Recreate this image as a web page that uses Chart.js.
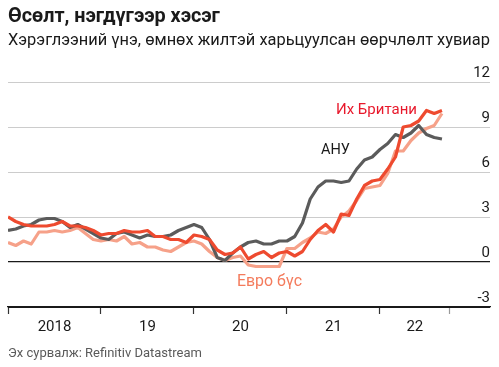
<!DOCTYPE html>
<html><head><meta charset="utf-8">
<script src="https://cdn.jsdelivr.net/npm/chart.js@4"></script>
<style>
html,body{margin:0;padding:0;background:#fff;}
#wrap{position:relative;width:499px;height:367px;overflow:hidden;font-family:Roboto,"Noto Sans",sans-serif;}
#c{position:absolute;left:0;top:0;}
.t{position:absolute;white-space:nowrap;line-height:1;margin:0;}
</style></head><body>
<div id="wrap">
<canvas id="c" width="499" height="367"></canvas>
<div class="t" id="title">Өсөлт, нэгдүгээр хэсэг</div>
<div class="t" id="subtitle">Хэрэглээний үнэ, өмнөх жилтэй харьцуулсан өөрчлөлт хувиар</div>
<div class="t" id="lblUK">Их Британи</div>
<div class="t" id="lblUS">АНУ</div>
<div class="t" id="lblEU">Евро бүс</div>
<div class="t" id="footer">Эх сурвалж: Refinitiv Datastream</div>
</div>
<script>
// ---- data (monthly, Jan 2018 = month 0 ... Sep 2022) ----
const ukValues = [
  3.0,2.7,2.5,2.4,2.4,2.4,2.5,2.7,2.4,2.4,2.3,2.1,
  1.8,1.9,1.9,2.1,2.0,2.0,2.1,1.7,1.7,1.5,1.5,1.3,
  1.8,1.7,1.5,0.8,0.5,0.6,1.0,0.2,0.5,0.7,0.3,0.6,
  0.7,0.4,0.7,1.5,2.1,2.5,2.0,3.2,3.1,4.2,5.1,5.4,
  5.5,6.2,7.0,9.0,9.1,9.4,10.1,9.9,10.1];
const usValues = [
  2.1,2.2,2.4,2.5,2.8,2.9,2.9,2.7,2.3,2.5,2.2,1.9,
  1.6,1.5,1.9,2.0,1.8,1.6,1.8,1.7,1.7,1.8,2.1,2.3,
  2.5,2.3,1.5,0.3,0.1,0.6,1.0,1.3,1.4,1.2,1.2,1.4,
  1.4,1.7,2.6,4.2,5.0,5.4,5.4,5.3,5.4,6.2,6.8,7.0,
  7.5,7.9,8.5,8.3,8.6,9.1,8.5,8.3,8.2];
const euroValues = [
  1.3,1.1,1.4,1.2,2.0,2.0,2.1,2.0,2.1,2.3,1.9,1.5,
  1.4,1.5,1.4,1.7,1.2,1.3,1.0,1.0,0.8,0.7,1.0,1.3,
  1.4,1.2,0.7,0.3,0.1,0.3,0.4,-0.2,-0.3,-0.3,-0.3,-0.3,
  0.9,0.9,1.3,1.6,2.0,1.9,2.2,3.0,3.4,4.1,4.9,5.0,
  5.1,5.9,7.4,7.4,8.1,8.6,8.9,9.1,9.9];
const yearLabels = ['2018','19','20','21','22'];
const yearLabelMonths = [6,18,30,42,52.5];
const yearTickMonths = [0,12,24,36,48,57];
const yTicks = [-3,0,3,6,9,12];
const seriesNames = ['Их Британи','АНУ','Евро бүс'];

const toPts = arr => arr.map((v,i)=>({x:i,y:v}));

const X_MIN = 0, X_MAX = 62.2;

function fixPad(s){ s.paddingTop=0; s.paddingBottom=0; s.paddingLeft=0; s.paddingRight=0; }

new Chart(document.getElementById('c'), {
  type:'line',
  data:{datasets:[
    {label:seriesNames[0], data:toPts(ukValues), borderColor:'#ee4a2f', borderWidth:3.2},
    {label:seriesNames[1], data:toPts(usValues), borderColor:'#5b5b5b', borderWidth:3.2},
    {label:seriesNames[2], data:toPts(euroValues), borderColor:'#f6a189', borderWidth:3.2}
  ]},
  options:{
    responsive:false, animation:false,
    parsing:true,
    elements:{point:{radius:0}, line:{tension:0, borderJoinStyle:'round', borderCapStyle:'butt'}},
    layout:{padding:{left:8, right:9, top:82, bottom:23}},
    plugins:{legend:{display:false}, tooltip:{enabled:false}},
    scales:{
      x:{type:'linear', position:'bottom', min:X_MIN, max:X_MAX, weight:0,
        afterBuildTicks:s=>{ s.ticks = yearTickMonths.map(v=>({value:v})); },
        afterFit:s=>{ s.height=7; fixPad(s); },
        ticks:{display:false},
        grid:{drawOnChartArea:false, drawTicks:true, tickLength:7, tickWidth:1.2,
          tickColor:c=> c.index===yearTickMonths.length-1 ? '#9a9a9a' : '#333'},
        border:{display:true, color:'#1a1a1a', width:1.2}
      },
      xl:{type:'linear', position:'bottom', min:X_MIN, max:X_MAX, weight:1,
        afterBuildTicks:s=>{ s.ticks = yearLabelMonths.map(v=>({value:v})); },
        afterFit:s=>{ s.height=30; fixPad(s); },
        ticks:{autoSkip:false, maxRotation:0, padding:4, color:'#1a1a1a',
          font:{family:'Roboto', size:15},
          callback:(v,i)=>yearLabels[i]},
        grid:{display:false, drawTicks:false},
        border:{display:false}
      },
      y:{type:'linear', position:'right', min:-3, max:12,
        afterBuildTicks:s=>{ s.ticks = yTicks.map(v=>({value:v})); },
        afterFit:s=>{ s.width=0; fixPad(s); },
        ticks:{mirror:true, padding:0, labelOffset:-9, color:'#1a1a1a',
          font:{family:'Roboto', size:15}},
        grid:{drawTicks:false,
          color:c=> (c.tick && (c.tick.value===0 || c.tick.value===-3)) ? '#1a1a1a' : '#cccccc',
          lineWidth:c=> (c.tick && c.tick.value===0) ? 1.2 : 1},
        border:{display:false}
      }
    }
  }
});

// ---- HTML text placement (baseline-based, width-fitted) ----
const mctx = document.createElement('canvas').getContext('2d');
function place(id, x, baseline, targetW, weight, color, guess){
  const el = document.getElementById(id);
  mctx.font = weight+' '+guess+'px Roboto';
  const w = mctx.measureText(el.textContent).width;
  let size = guess * targetW / w;
  if (size > guess*1.15) size = guess*1.15;
  if (size < guess*0.85) size = guess*0.85;
  el.style.fontSize = size.toFixed(2)+'px';
  el.style.fontWeight = weight;
  el.style.color = color;
  el.style.left = x+'px';
  el.style.top = (baseline - 0.842*size).toFixed(2)+'px';
}
function doPlace(){
  place('title', 8, 22.7, 212, 700, '#1a1a1a', 18);
  place('subtitle', 8, 45.7, 482, 400, '#1a1a1a', 16);
  place('lblUK', 336, 115, 81, 400, '#e8192c', 15);
  place('lblUS', 321, 155, 29, 400, '#1a1a1a', 15.5);
  place('lblEU', 237, 286.7, 65, 400, '#f47b5c', 16);
  place('footer', 8, 356.7, 194, 400, '#5a5a5a', 14);
}
doPlace();
if (document.fonts && document.fonts.ready) document.fonts.ready.then(doPlace);
</script>
</body></html>
